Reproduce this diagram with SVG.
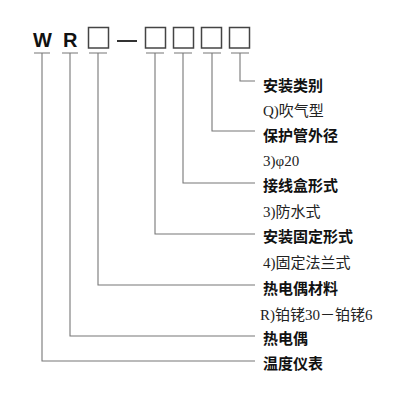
<svg xmlns="http://www.w3.org/2000/svg" width="400" height="400" viewBox="0 0 400 400">
<style>
.code{font-family:"Liberation Sans",Arial,sans-serif;font-weight:bold;font-size:20px;fill:#111}
.box{fill:none;stroke:#444;stroke-width:1.5}
.ln{fill:none;stroke:#777;stroke-width:1.1}
.h{font-family:"Noto Sans CJK SC","Liberation Sans",sans-serif;font-weight:bold;font-size:15px;fill:#111}
.s{font-family:"Liberation Serif","Noto Sans CJK SC",serif;font-size:15px;fill:#222}
</style>
<rect width="400" height="400" fill="#fff"/>
<g id="code">
<text class="code" x="33" y="47">W</text>
<text class="code" x="63" y="47">R</text>
<rect class="box" x="88.5" y="27.5" width="20" height="20.5"/>
<line x1="117" y1="41" x2="137" y2="41" stroke="#333" stroke-width="2"/>
<rect class="box" x="145.5" y="27.5" width="20" height="20.5"/>
<rect class="box" x="173.5" y="27.5" width="20" height="20.5"/>
<rect class="box" x="201.5" y="27.5" width="20" height="20.5"/>
<rect class="box" x="229.5" y="27.5" width="20" height="20.5"/>
</g>
<g id="connectors">
<path class="ln" d="M34 53H50M62 53H78M89 53H107M146 53H164M174 53H192M203 53H221M231 53H249"/>
<path class="ln" d="M240 53V81H255"/>
<path class="ln" d="M212 53V131H255"/>
<path class="ln" d="M183 53V183H255"/>
<path class="ln" d="M155 53V234H255"/>
<path class="ln" d="M98 53V285H255"/>
<path class="ln" d="M70 53V336H255"/>
<path class="ln" d="M42 53V361H255"/>
</g>
<g id="labels">
<text class="h" x="263" y="91">安装类别</text>
<text class="s" x="263" y="116">Q)吹气型</text>
<text class="h" x="263" y="141">保护管外径</text>
<text class="s" x="263" y="166">3)φ20</text>
<text class="h" x="263" y="191">接线盒形式</text>
<text class="s" x="263" y="217">3)防水式</text>
<text class="h" x="263" y="242">安装固定形式</text>
<text class="s" x="263" y="268">4)固定法兰式</text>
<text class="h" x="263" y="294">热电偶材料</text>
<text class="s" x="260" y="320">R)铂铑30－铂铑6</text>
<text class="h" x="263" y="344">热电偶</text>
<text class="h" x="263" y="369">温度仪表</text>
</g>
</svg>
